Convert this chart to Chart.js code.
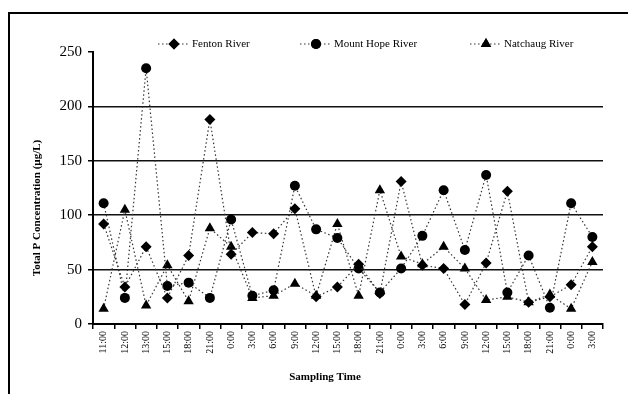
<!DOCTYPE html>
<html>
<head>
<meta charset="utf-8">
<script src="https://cdn.jsdelivr.net/npm/chart.js@4/dist/chart.umd.min.js"></script>
<style>
  body { margin: 0; background: #fff; }
  canvas { display: block; }
</style>
</head>
<body>
<canvas id="chart-canvas" width="628" height="394"></canvas>
<script>
const times = ["11:00", "12:00", "13:00", "15:00", "18:00", "21:00", "0:00", "3:00", "6:00", "9:00",
  "12:00", "15:00", "18:00", "21:00", "0:00", "3:00", "6:00", "9:00", "12:00", "15:00", "18:00", "21:00", "0:00", "3:00"];
const fenton = [92, 34, 71, 24, 63, 188, 64, 84, 83, 106, 25, 34, 55, 28, 131, 54, 51, 18, 56, 122, 20, 25, 36, 71];
const mountHope = [111, 24, 235, 35, 38, 24, 96, 26, 31, 127, 87, 79, 51, 29, 51, 81, 123, 68, 137, 29, 63, 15, 111, 80];
const natchaug = [14, 105, 17, 54, 21, 88, 71, 24, 26, 37, 26, 92, 26, 123, 62, 55, 71, 51, 22, 25, 20, 27, 14, 57];
const yTicks = [0, 50, 100, 150, 200, 250];

const serif = "'Liberation Serif', 'Times New Roman', serif";

function series(label, data, style, radius) {
  return {
    label: label,
    data: data,
    borderColor: "#333",
    borderWidth: 1.2,
    borderDash: [1.5, 2.5],
    backgroundColor: "#000",
    pointStyle: style,
    pointRadius: radius,
    pointBorderWidth: 0,
    pointBackgroundColor: "#000",
    tension: 0,
  };
}

// frame, legend and axis titles
const extras = {
  id: "extras",
  afterDraw(chart) {
    const ctx = chart.ctx;
    ctx.save();
    ctx.strokeStyle = "#000";
    ctx.lineWidth = 2;
    ctx.beginPath();
    ctx.moveTo(9, 394);
    ctx.lineTo(9, 13);
    ctx.lineTo(628, 13);
    ctx.stroke();

    const spots = [174, 316, 486];
    chart.data.datasets.forEach((ds, i) => {
      const mx = spots[i], my = 44;
      ctx.strokeStyle = "#333";
      ctx.lineWidth = 1.2;
      ctx.setLineDash([1.5, 2.5]);
      ctx.beginPath();
      ctx.moveTo(mx - 16, my);
      ctx.lineTo(mx + 14, my);
      ctx.stroke();
      ctx.setLineDash([]);
      ctx.fillStyle = "#000";
      Chart.helpers.drawPoint(ctx, { pointStyle: ds.pointStyle, radius: ds.pointRadius, borderWidth: 0 }, mx, my);
      ctx.fill();
      ctx.font = "11px " + serif;
      ctx.textAlign = "left";
      ctx.textBaseline = "middle";
      ctx.fillText(ds.label, mx + 18, my);
    });

    ctx.font = "bold 11px " + serif;
    ctx.textAlign = "center";
    ctx.textBaseline = "middle";
    ctx.fillText("Sampling Time", 325, 377);
    ctx.translate(37, 208);
    ctx.rotate(-Math.PI / 2);
    ctx.fillText("Total P Concentration (\u00b5g/L)", 0, 0);
    ctx.restore();
  },
};

const ctx = document.getElementById("chart-canvas").getContext("2d");
const chart = new Chart(ctx, {
  type: "line",
  data: {
    labels: times,
    datasets: [
      series("Fenton River", fenton, "rectRot", 5.5),
      series("Mount Hope River", mountHope, "circle", 5),
      series("Natchaug River", natchaug, "triangle", 6),
    ],
  },
  options: {
    responsive: false,
    animation: false,
    layout: { padding: { left: 0, top: 52, right: 25, bottom: 0 } },
    plugins: { legend: { display: false }, tooltip: { enabled: false } },
    scales: {
      x: {
        offset: true,
        afterFit: (s) => { s.height = 70; },
        border: { color: "#000", width: 2 },
        grid: { offset: true, drawOnChartArea: false, tickLength: 5, color: "#000", lineWidth: 1.5 },
        ticks: {
          autoSkip: false, maxRotation: 90, minRotation: 90, padding: 2,
          color: "#000", font: { family: serif, size: 10 },
        },
      },
      y: {
        min: 0,
        max: 250,
        afterFit: (s) => { s.width = 93; },
        afterBuildTicks: (s) => { s.ticks = yTicks.map((v) => ({ value: v })); },
        border: { color: "#000", width: 2 },
        grid: {
          tickLength: 5,
          lineWidth: 1.5,
          tickColor: "#000",
          color: (c) => (c.tick && (c.tick.value === 250 || c.tick.value === 0) ? "rgba(0,0,0,0)" : "#111"),
        },
        ticks: { padding: 6, color: "#000", font: { family: serif, size: 15 } },
      },
    },
  },
  plugins: [extras],
});
</script>
</body>
</html>
